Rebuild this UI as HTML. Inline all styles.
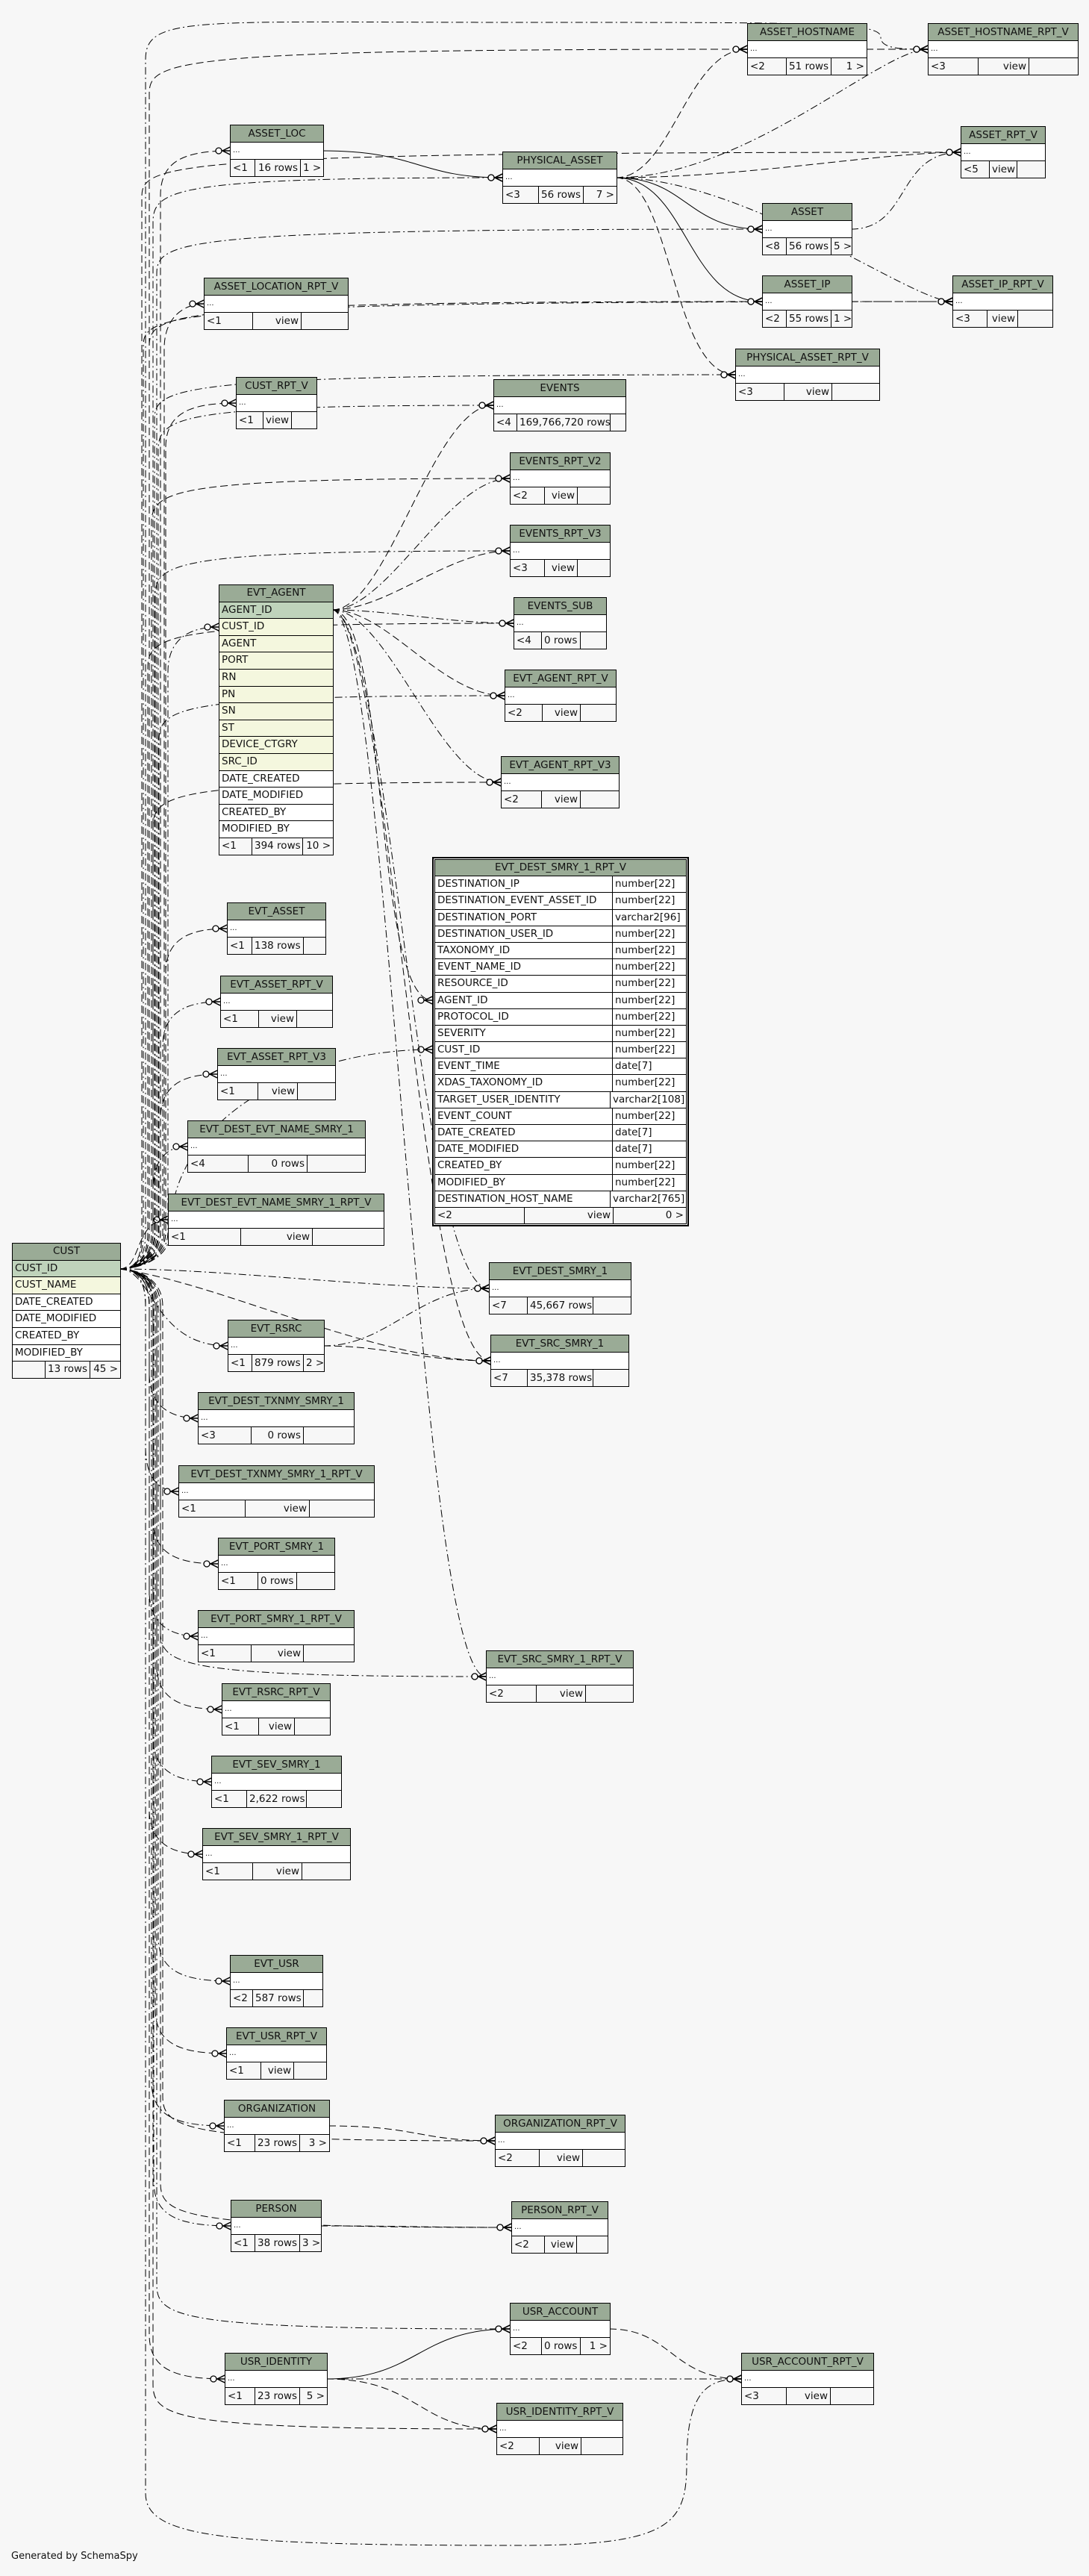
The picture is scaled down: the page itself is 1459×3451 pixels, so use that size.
<!DOCTYPE html>
<html><head><meta charset="utf-8">
<style>
body{margin:0;width:1459px;height:3451px;background:#f7f7f7;position:relative;font-family:"DejaVu Sans","Liberation Sans",sans-serif;font-size:13.5px;color:#111;overflow:hidden}
svg{position:absolute;left:0;top:0}
.t{position:absolute;border:1px solid #000;background:#f7f7f7;box-sizing:content-box}
.t>div{height:22px;line-height:22px;border-top:1px solid #000;white-space:nowrap;overflow:hidden;padding:0 3px}
.t>div.h{border-top:0;background:#9aab96;text-align:center;padding:0 1px}
.t>div.r{background:#fff;font-size:10px}
.t>div.f{display:flex;padding:0}
.f span{display:block;border-left:1px solid #000;padding:0 3px;overflow:hidden;box-sizing:border-box;white-space:nowrap}
.f span:first-child{border-left:0}
.f span:last-child{flex:1;text-align:right}
.f span.m{text-align:right}
.k>div{height:21.6px;line-height:21.6px}
.k>div.pk{background:#bfd3bb}
.k>div.fk{background:#f4f7de}
.k>div.w{background:#fff}
.big{position:absolute;left:579px;top:1148px;width:338px;border:2px solid #000;padding:1px;background:#f7f7f7}
.big .t{position:static;width:auto}
.big .t>div{height:21.2px;line-height:21.2px}
.big .t>div.c{display:flex;padding:0;background:#fff}
.c span{display:block;padding:0 3px;white-space:nowrap;overflow:hidden}
.c span:first-child{width:238px;border-right:1px solid #000;box-sizing:border-box}
.gen{position:absolute;left:15px;top:3417px;font-size:13px}
</style></head><body>
<svg width="1459" height="3451" viewBox="0 0 1459 3451">
<defs>
<marker id="cf" markerUnits="userSpaceOnUse" viewBox="0 0 20 12" refX="20" refY="6" markerWidth="20" markerHeight="12" orient="auto">
<circle cx="5" cy="6" r="4" fill="#fff" stroke="#000" stroke-width="1.3"/>
<path d="M9,6 L20,6 M10,6 L20,1 M10,6 L20,11" stroke="#000" stroke-width="1.5" fill="none"/>
</marker>
</defs>
<g fill="none" stroke="#000" stroke-width="1" marker-end="url(#cf)">
<g stroke-dasharray="10,5">
<path d="M160,1700 C180,1700 200,1690 200,1650 L200,126 C200,81 230,66 1001,66"/>
<path d="M160,1700 C180,1700 215,1690 215,1650 L215,262 C215,217 245,202 308,202"/>
<path d="M160,1700 C180,1700 190,1690 190,1650 L190,264 C190,219 220,204 1287,204"/>
<path d="M160,1700 C180,1700 220,1690 220,1650 L220,467 C220,422 250,407 273,407"/>
<path d="M160,1700 C180,1700 200,1690 200,1650 L200,464 C200,419 230,404 1021,404"/>
<path d="M160,1700 C180,1700 222,1690 222,1650 L222,600 C222,555 252,540 316,540"/>
<path d="M160,1700 C180,1700 203,1690 203,1650 L203,701 C203,656 233,641 683,641"/>
<path d="M160,1700 C180,1700 198,1690 198,1650 L198,895 C198,850 228,835 688,835"/>
<path d="M160,1700 C180,1700 205,1690 205,1650 L205,1108 C205,1063 235,1048 671,1048"/>
<path d="M160,1700 C180,1700 222,1690 222,1650 L222,1304 C222,1259 252,1244 304,1244"/>
<path d="M160,1700 C180,1700 215,1690 215,1650 L215,1499 C215,1454 245,1439 291,1439"/>
<path d="M160,1700 C190,1700 180,1634 225,1634"/>
<path d="M160,1700 C180,1700 200,1710 200,1750 L200,1840 C200,1885 230,1900 265,1900"/>
<path d="M160,1700 C180,1700 205,1710 205,1750 L205,2035 C205,2080 235,2095 292,2095"/>
<path d="M160,1700 C180,1700 210,1710 210,1750 L210,2230 C210,2275 240,2290 297,2290"/>
<path d="M160,1700 C180,1700 200,1710 200,1750 L200,2424 C200,2469 230,2484 271,2484"/>
<path d="M160,1700 C180,1700 208,1710 208,1750 L208,2691 C208,2736 238,2751 303,2751"/>
<path d="M160,1700 C180,1700 218,1710 218,1750 L218,2808 C218,2853 248,2868 663,2868"/>
<path d="M160,1700 C180,1700 215,1710 215,1750 L215,2924 C215,2969 245,2984 685,2984"/>
<path d="M160,1700 C180,1700 200,1710 200,1750 L200,3127 C200,3172 230,3187 301,3187"/>
<path d="M160,1700 C180,1700 205,1710 205,1750 L205,3194 C205,3239 235,3254 665,3254"/>
<path d="M160,1700 C300,1720 500,1823 657,1823"/>
<path d="M445,817 C520,817 580,543 661,543"/>
<path d="M445,817 C520,817 600,738 683,738"/>
<path d="M445,817 C520,817 590,932 676,932"/>
<path d="M445,817 C520,817 500,1340 579,1340"/>
<path d="M445,817 C520,817 560,1823 657,1823"/>
<path d="M433,1803 C520,1803 560,1823 657,1823"/>
<path d="M825,238 C900,238 920,66 1001,66"/>
<path d="M825,238 C1000,238 1180,204 1287,204"/>
<path d="M825,238 C900,238 900,502 985,502"/>
<path d="M1160,66 C1200,66 1200,66 1243,66"/>
<path d="M1140,404 C1200,404 1220,404 1276,404"/>
<path d="M440,2848 C560,2848 560,2868 663,2868"/>
<path d="M429,2982 C560,2982 560,2984 685,2984"/>
<path d="M437,3187 C560,3187 560,3254 665,3254"/>
<path d="M816,3120 C900,3120 900,3187 993,3187"/>
</g>
<g stroke-dasharray="10,4,2,4">
<path d="M160,1700 C180,1700 195,1690 195,1650 L195,80 C195,20 260,30 700,30 C1100,30 1180,30 1180,50 C1180,66 1210,66 1243,66"/>
<path d="M160,1700 C180,1700 205,1690 205,1650 L205,298 C205,253 235,238 673,238"/>
<path d="M160,1700 C180,1700 210,1690 210,1650 L210,367 C210,322 240,307 1021,307"/>
<path d="M160,1700 C180,1700 192,1690 192,1650 L192,464 C192,419 222,404 1276,404"/>
<path d="M160,1700 C180,1700 207,1690 207,1650 L207,562 C207,517 237,502 985,502"/>
<path d="M160,1700 C180,1700 212,1690 212,1650 L212,603 C212,558 242,543 661,543"/>
<path d="M160,1700 C180,1700 208,1690 208,1650 L208,798 C208,753 238,738 683,738"/>
<path d="M160,1700 C180,1700 213,1690 213,1650 L213,992 C213,947 243,932 676,932"/>
<path d="M160,1700 C180,1700 225,1690 225,1650 L225,900 C225,855 255,840 293,840"/>
<path d="M160,1700 C180,1700 228,1690 228,1650 C228,1500 400,1406 579,1406"/>
<path d="M160,1700 C180,1700 218,1690 218,1650 L218,1402 C218,1357 248,1342 295,1342"/>
<path d="M160,1700 C180,1700 205,1690 205,1650 L205,1596 C205,1551 225,1536 251,1536"/>
<path d="M160,1700 C205,1700 205,1803 305,1803"/>
<path d="M160,1700 C180,1700 195,1710 195,1750 L195,1938 C195,1983 215,1998 239,1998"/>
<path d="M160,1700 C180,1700 200,1710 200,1750 L200,2132 C200,2177 230,2192 265,2192"/>
<path d="M160,1700 C180,1700 205,1710 205,1750 L205,2327 C205,2372 235,2387 283,2387"/>
<path d="M160,1700 C180,1700 212,1710 212,1750 L212,2594 C212,2639 242,2654 308,2654"/>
<path d="M160,1700 C180,1700 203,1710 203,1750 L203,2788 C203,2833 233,2848 300,2848"/>
<path d="M160,1700 C180,1700 206,1710 206,1750 L206,2922 C206,2967 236,2982 309,2982"/>
<path d="M160,1700 C180,1700 210,1710 210,1750 L210,3060 C210,3105 240,3120 683,3120"/>
<path d="M160,1700 C180,1700 195,1710 195,1750 L195,3340 C195,3400 300,3410 700,3410 C900,3410 920,3380 920,3300 C920,3200 950,3187 993,3187"/>
<path d="M160,1700 C300,1700 500,1726 655,1726"/>
<path d="M160,1700 C180,1700 215,1710 215,1750 L215,2186 C215,2231 245,2246 651,2246"/>
<path d="M445,817 C520,817 600,641 683,641"/>
<path d="M445,817 C520,817 600,835 688,835"/>
<path d="M445,817 C520,817 590,1048 671,1048"/>
<path d="M445,817 C520,817 560,1726 655,1726"/>
<path d="M445,817 C520,817 560,2246 651,2246"/>
<path d="M433,1803 C520,1803 560,1726 655,1726"/>
<path d="M825,238 C1000,238 1180,66 1243,66"/>
<path d="M825,238 C1000,238 1220,404 1276,404"/>
<path d="M1140,307 C1220,307 1200,204 1287,204"/>
<path d="M437,3187 C700,3187 800,3187 993,3187"/>
</g>
<path d="M432,202 C560,202 560,238 673,238"/>
<path d="M825,238 C920,238 920,307 1021,307"/>
<path d="M825,238 C920,238 920,404 1021,404"/>
<path d="M437,3187 C560,3187 560,3120 683,3120"/>
</g>
</svg>

<div class="t" style="left:1001px;top:31px;width:159px"><div class="h">ASSET_HOSTNAME</div><div class="r">...</div><div class="f"><span style="width:51px">&lt;2</span><span class="m" style="width:60px">51 rows</span><span>1 &gt;</span></div></div>
<div class="t" style="left:1243px;top:31px;width:200px"><div class="h">ASSET_HOSTNAME_RPT_V</div><div class="r">...</div><div class="f"><span style="width:66px">&lt;3</span><span class="m" style="width:68px">view</span><span></span></div></div>
<div class="t" style="left:308px;top:167px;width:124px"><div class="h">ASSET_LOC</div><div class="r">...</div><div class="f"><span style="width:32px">&lt;1</span><span class="m" style="width:61px">16 rows</span><span>1 &gt;</span></div></div>
<div class="t" style="left:673px;top:203px;width:152px"><div class="h">PHYSICAL_ASSET</div><div class="r">...</div><div class="f"><span style="width:47px">&lt;3</span><span class="m" style="width:60px">56 rows</span><span>7 &gt;</span></div></div>
<div class="t" style="left:1287px;top:169px;width:112px"><div class="h">ASSET_RPT_V</div><div class="r">...</div><div class="f"><span style="width:37px">&lt;5</span><span style="width:37px">view</span><span></span></div></div>
<div class="t" style="left:1021px;top:272px;width:119px"><div class="h">ASSET</div><div class="r">...</div><div class="f"><span style="width:31px">&lt;8</span><span class="m" style="width:60px">56 rows</span><span>5 &gt;</span></div></div>
<div class="t" style="left:273px;top:372px;width:192px"><div class="h">ASSET_LOCATION_RPT_V</div><div class="r">...</div><div class="f"><span style="width:64px">&lt;1</span><span class="m" style="width:65px">view</span><span></span></div></div>
<div class="t" style="left:1021px;top:369px;width:119px"><div class="h">ASSET_IP</div><div class="r">...</div><div class="f"><span style="width:31px">&lt;2</span><span class="m" style="width:60px">55 rows</span><span>1 &gt;</span></div></div>
<div class="t" style="left:1276px;top:369px;width:133px"><div class="h">ASSET_IP_RPT_V</div><div class="r">...</div><div class="f"><span style="width:45px">&lt;3</span><span class="m" style="width:41px">view</span><span></span></div></div>
<div class="t" style="left:985px;top:467px;width:192px"><div class="h">PHYSICAL_ASSET_RPT_V</div><div class="r">...</div><div class="f"><span style="width:64px">&lt;3</span><span class="m" style="width:64px">view</span><span></span></div></div>
<div class="t" style="left:316px;top:505px;width:107px"><div class="h">CUST_RPT_V</div><div class="r">...</div><div class="f"><span style="width:35px">&lt;1</span><span style="width:38px">view</span><span></span></div></div>
<div class="t" style="left:661px;top:508px;width:176px"><div class="h">EVENTS</div><div class="r">...</div><div class="f"><span style="width:30px">&lt;4</span><span style="width:125px">169,766,720 rows</span><span></span></div></div>
<div class="t" style="left:683px;top:606px;width:133px"><div class="h">EVENTS_RPT_V2</div><div class="r">...</div><div class="f"><span style="width:45px">&lt;2</span><span class="m" style="width:44px">view</span><span></span></div></div>
<div class="t" style="left:683px;top:703px;width:133px"><div class="h">EVENTS_RPT_V3</div><div class="r">...</div><div class="f"><span style="width:45px">&lt;3</span><span class="m" style="width:44px">view</span><span></span></div></div>
<div class="t" style="left:688px;top:800px;width:123px"><div class="h">EVENTS_SUB</div><div class="r">...</div><div class="f"><span style="width:36px">&lt;4</span><span style="width:52px">0 rows</span><span></span></div></div>
<div class="t" style="left:676px;top:897px;width:148px"><div class="h">EVT_AGENT_RPT_V</div><div class="r">...</div><div class="f"><span style="width:49px">&lt;2</span><span class="m" style="width:51px">view</span><span></span></div></div>
<div class="t" style="left:671px;top:1013px;width:157px"><div class="h">EVT_AGENT_RPT_V3</div><div class="r">...</div><div class="f"><span style="width:53px">&lt;2</span><span class="m" style="width:52px">view</span><span></span></div></div>

<div class="t k" style="left:293px;top:783px;width:152px"><div class="h">EVT_AGENT</div><div class="pk">AGENT_ID</div><div class="fk">CUST_ID</div><div class="fk">AGENT</div><div class="fk">PORT</div><div class="fk">RN</div><div class="fk">PN</div><div class="fk">SN</div><div class="fk">ST</div><div class="fk">DEVICE_CTGRY</div><div class="fk">SRC_ID</div><div class="w">DATE_CREATED</div><div class="w">DATE_MODIFIED</div><div class="w">CREATED_BY</div><div class="w">MODIFIED_BY</div><div class="f"><span style="width:43px">&lt;1</span><span style="width:68px">394 rows</span><span>10 &gt;</span></div></div>

<div class="big"><div class="t"><div class="h">EVT_DEST_SMRY_1_RPT_V</div>
<div class="c"><span>DESTINATION_IP</span><span>number[22]</span></div>
<div class="c"><span>DESTINATION_EVENT_ASSET_ID</span><span>number[22]</span></div>
<div class="c"><span>DESTINATION_PORT</span><span>varchar2[96]</span></div>
<div class="c"><span>DESTINATION_USER_ID</span><span>number[22]</span></div>
<div class="c"><span>TAXONOMY_ID</span><span>number[22]</span></div>
<div class="c"><span>EVENT_NAME_ID</span><span>number[22]</span></div>
<div class="c"><span>RESOURCE_ID</span><span>number[22]</span></div>
<div class="c"><span>AGENT_ID</span><span>number[22]</span></div>
<div class="c"><span>PROTOCOL_ID</span><span>number[22]</span></div>
<div class="c"><span>SEVERITY</span><span>number[22]</span></div>
<div class="c"><span>CUST_ID</span><span>number[22]</span></div>
<div class="c"><span>EVENT_TIME</span><span>date[7]</span></div>
<div class="c"><span>XDAS_TAXONOMY_ID</span><span>number[22]</span></div>
<div class="c"><span>TARGET_USER_IDENTITY</span><span>varchar2[108]</span></div>
<div class="c"><span>EVENT_COUNT</span><span>number[22]</span></div>
<div class="c"><span>DATE_CREATED</span><span>date[7]</span></div>
<div class="c"><span>DATE_MODIFIED</span><span>date[7]</span></div>
<div class="c"><span>CREATED_BY</span><span>number[22]</span></div>
<div class="c"><span>MODIFIED_BY</span><span>number[22]</span></div>
<div class="c"><span>DESTINATION_HOST_NAME</span><span>varchar2[765]</span></div>
<div class="f"><span style="width:119px">&lt;2</span><span class="m" style="width:119px">view</span><span>0 &gt;</span></div>
</div></div>

<div class="t" style="left:304px;top:1209px;width:131px"><div class="h">EVT_ASSET</div><div class="r">...</div><div class="f"><span style="width:32px">&lt;1</span><span style="width:69px">138 rows</span><span></span></div></div>
<div class="t" style="left:295px;top:1307px;width:149px"><div class="h">EVT_ASSET_RPT_V</div><div class="r">...</div><div class="f"><span style="width:50px">&lt;1</span><span class="m" style="width:51px">view</span><span></span></div></div>
<div class="t" style="left:291px;top:1404px;width:157px"><div class="h">EVT_ASSET_RPT_V3</div><div class="r">...</div><div class="f"><span style="width:53px">&lt;1</span><span class="m" style="width:53px">view</span><span></span></div></div>
<div class="t" style="left:251px;top:1501px;width:237px"><div class="h">EVT_DEST_EVT_NAME_SMRY_1</div><div class="r">...</div><div class="f"><span style="width:80px">&lt;4</span><span class="m" style="width:79px">0 rows</span><span></span></div></div>
<div class="t" style="left:225px;top:1599px;width:288px"><div class="h">EVT_DEST_EVT_NAME_SMRY_1_RPT_V</div><div class="r">...</div><div class="f"><span style="width:96px">&lt;1</span><span class="m" style="width:96px">view</span><span></span></div></div>

<div class="t k" style="left:16px;top:1665px;width:144px"><div class="h">CUST</div><div class="pk">CUST_ID</div><div class="fk">CUST_NAME</div><div class="w">DATE_CREATED</div><div class="w">DATE_MODIFIED</div><div class="w">CREATED_BY</div><div class="w">MODIFIED_BY</div><div class="f"><span style="width:43px"></span><span style="width:60px">13 rows</span><span>45 &gt;</span></div></div>

<div class="t" style="left:655px;top:1691px;width:189px"><div class="h">EVT_DEST_SMRY_1</div><div class="r">...</div><div class="f"><span style="width:50px">&lt;7</span><span style="width:88px">45,667 rows</span><span></span></div></div>
<div class="t" style="left:657px;top:1788px;width:184px"><div class="h">EVT_SRC_SMRY_1</div><div class="r">...</div><div class="f"><span style="width:48px">&lt;7</span><span style="width:88px">35,378 rows</span><span></span></div></div>
<div class="t" style="left:651px;top:2211px;width:196px"><div class="h">EVT_SRC_SMRY_1_RPT_V</div><div class="r">...</div><div class="f"><span style="width:66px">&lt;2</span><span class="m" style="width:66px">view</span><span></span></div></div>

<div class="t" style="left:305px;top:1768px;width:128px"><div class="h">EVT_RSRC</div><div class="r">...</div><div class="f"><span style="width:31px">&lt;1</span><span style="width:69px">879 rows</span><span>2 &gt;</span></div></div>
<div class="t" style="left:265px;top:1865px;width:208px"><div class="h">EVT_DEST_TXNMY_SMRY_1</div><div class="r">...</div><div class="f"><span style="width:70px">&lt;3</span><span class="m" style="width:70px">0 rows</span><span></span></div></div>
<div class="t" style="left:239px;top:1963px;width:261px"><div class="h">EVT_DEST_TXNMY_SMRY_1_RPT_V</div><div class="r">...</div><div class="f"><span style="width:88px">&lt;1</span><span class="m" style="width:86px">view</span><span></span></div></div>
<div class="t" style="left:292px;top:2060px;width:155px"><div class="h">EVT_PORT_SMRY_1</div><div class="r">...</div><div class="f"><span style="width:52px">&lt;1</span><span style="width:52px">0 rows</span><span></span></div></div>
<div class="t" style="left:265px;top:2157px;width:208px"><div class="h">EVT_PORT_SMRY_1_RPT_V</div><div class="r">...</div><div class="f"><span style="width:70px">&lt;1</span><span class="m" style="width:70px">view</span><span></span></div></div>
<div class="t" style="left:297px;top:2255px;width:144px"><div class="h">EVT_RSRC_RPT_V</div><div class="r">...</div><div class="f"><span style="width:48px">&lt;1</span><span class="m" style="width:48px">view</span><span></span></div></div>
<div class="t" style="left:283px;top:2352px;width:173px"><div class="h">EVT_SEV_SMRY_1</div><div class="r">...</div><div class="f"><span style="width:46px">&lt;1</span><span style="width:80px">2,622 rows</span><span></span></div></div>
<div class="t" style="left:271px;top:2449px;width:197px"><div class="h">EVT_SEV_SMRY_1_RPT_V</div><div class="r">...</div><div class="f"><span style="width:66px">&lt;1</span><span class="m" style="width:66px">view</span><span></span></div></div>
<div class="t" style="left:308px;top:2619px;width:123px"><div class="h">EVT_USR</div><div class="r">...</div><div class="f"><span style="width:29px">&lt;2</span><span style="width:68px">587 rows</span><span></span></div></div>
<div class="t" style="left:303px;top:2716px;width:133px"><div class="h">EVT_USR_RPT_V</div><div class="r">...</div><div class="f"><span style="width:45px">&lt;1</span><span class="m" style="width:44px">view</span><span></span></div></div>
<div class="t" style="left:300px;top:2813px;width:140px"><div class="h">ORGANIZATION</div><div class="r">...</div><div class="f"><span style="width:40px">&lt;1</span><span class="m" style="width:60px">23 rows</span><span>3 &gt;</span></div></div>
<div class="t" style="left:663px;top:2833px;width:173px"><div class="h">ORGANIZATION_RPT_V</div><div class="r">...</div><div class="f"><span style="width:58px">&lt;2</span><span class="m" style="width:58px">view</span><span></span></div></div>
<div class="t" style="left:309px;top:2947px;width:120px"><div class="h">PERSON</div><div class="r">...</div><div class="f"><span style="width:31px">&lt;1</span><span class="m" style="width:60px">38 rows</span><span>3 &gt;</span></div></div>
<div class="t" style="left:685px;top:2949px;width:128px"><div class="h">PERSON_RPT_V</div><div class="r">...</div><div class="f"><span style="width:43px">&lt;2</span><span class="m" style="width:43px">view</span><span></span></div></div>
<div class="t" style="left:683px;top:3085px;width:133px"><div class="h">USR_ACCOUNT</div><div class="r">...</div><div class="f"><span style="width:41px">&lt;2</span><span style="width:52px">0 rows</span><span>1 &gt;</span></div></div>
<div class="t" style="left:301px;top:3152px;width:136px"><div class="h">USR_IDENTITY</div><div class="r">...</div><div class="f"><span style="width:39px">&lt;1</span><span class="m" style="width:60px">23 rows</span><span>5 &gt;</span></div></div>
<div class="t" style="left:993px;top:3152px;width:176px"><div class="h">USR_ACCOUNT_RPT_V</div><div class="r">...</div><div class="f"><span style="width:59px">&lt;3</span><span class="m" style="width:59px">view</span><span></span></div></div>
<div class="t" style="left:665px;top:3219px;width:168px"><div class="h">USR_IDENTITY_RPT_V</div><div class="r">...</div><div class="f"><span style="width:56px">&lt;2</span><span class="m" style="width:56px">view</span><span></span></div></div>

<div class="gen">Generated by SchemaSpy</div>
</body></html>
